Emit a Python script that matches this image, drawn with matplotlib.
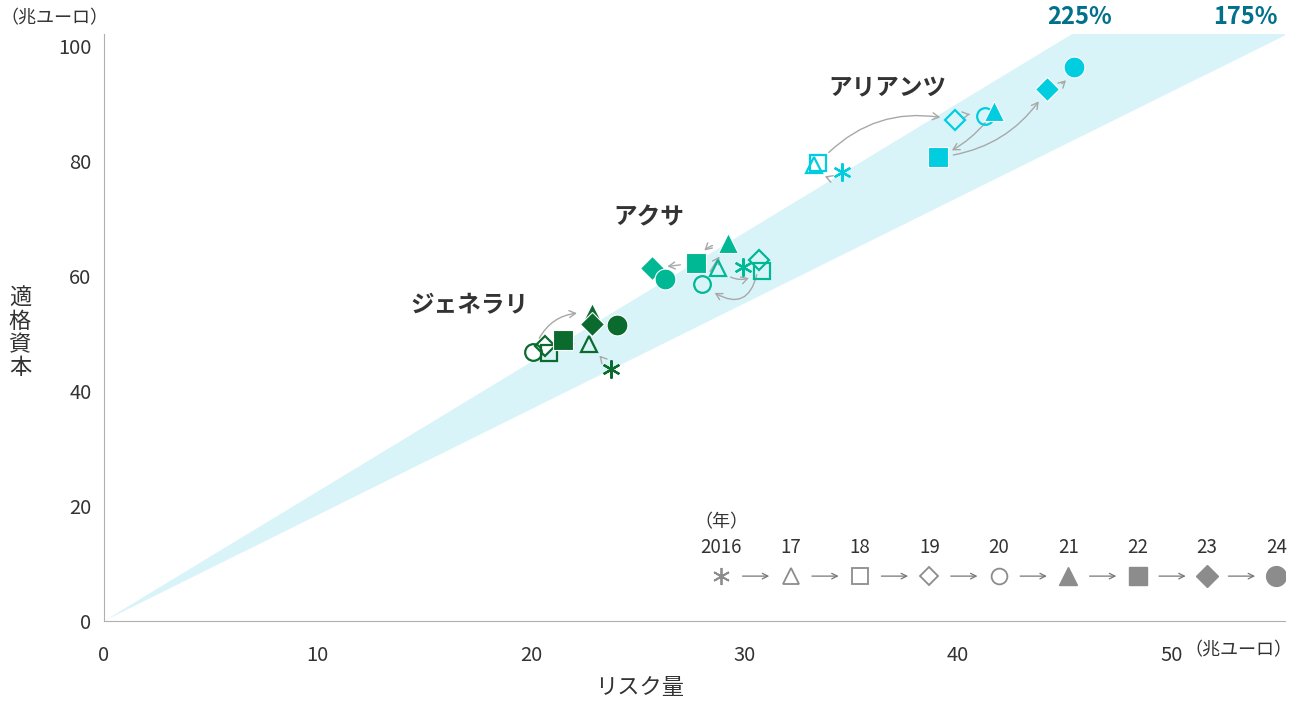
import numpy as np
import matplotlib
matplotlib.use("Agg")
import matplotlib.pyplot as plt

plt.rcParams["font.family"] = ["Noto Sans CJK JP", "DejaVu Sans"]

# data (trillion euro), years 2016 .. 2024
years = ["2016", "17", "18", "19", "20", "21", "22", "23", "24"]

generali_risk = [23.75, 22.72, 20.84, 20.65, 20.10, 22.86, 21.50, 22.86, 24.03]
generali_cap = [43.8, 48.1, 46.5, 47.7, 46.7, 53.5, 48.8, 51.6, 51.4]

axa_risk = [29.93, 28.76, 30.82, 30.68, 28.00, 29.20, 27.70, 25.67, 26.28]
axa_cap = [61.5, 61.3, 60.9, 62.8, 58.5, 65.6, 62.2, 61.3, 59.4]

allianz_risk = [34.57, 33.26, 33.44, 39.86, 41.26, 41.69, 39.06, 44.17, 45.43]
allianz_cap = [78.1, 79.2, 79.5, 87.0, 87.8, 88.7, 80.6, 92.5, 96.2]

# ratio band (capital / risk); lower edge as drawn in the original
band_hi = 2.25
band_lo = 1.84

# marker per year
markers = [(6, 2, 0), "^", "s", "D", "o", "^", "s", "D", "o"]
filled = [False, False, False, False, False, True, True, True, True]
msizes = [14, 13, 13, 11, 13, 14, 14, 12, 15]

# arrows: (from index, to index, curvature)
generali_arrows = [(0, 1, 0.0), (1, 2, 0.2), (4, 5, -0.4), (7, 8, 0.2)]
axa_arrows = [(1, 2, 0.45), (3, 4, -0.9), (4, 5, 0.0), (5, 6, 0.35), (6, 7, 0.0), (7, 8, 0.6)]
allianz_arrows = [(0, 1, -0.6), (2, 3, -0.3), (3, 4, -0.25), (5, 6, -0.15), (6, 7, 0.25), (7, 8, 0.3)]

companies = [
    ("ジェネラリ", generali_risk, generali_cap, "#0b6b2f", generali_arrows, (17.1, 55.0)),
    ("アクサ", axa_risk, axa_cap, "#00b894", axa_arrows, (25.5, 70.1)),
    ("アリアンツ", allianz_risk, allianz_cap, "#00cde0", allianz_arrows, (36.7, 92.5)),
]

xmax, ymax = 55.3, 102

fig = plt.figure(figsize=(13.01, 7.02), dpi=100)
ax = fig.add_axes([104 / 1301, 81 / 702, 1181 / 1301, 587 / 702])
ax.set_xlim(0, xmax)
ax.set_ylim(0, ymax)

xs = np.array([0, xmax])
ax.fill_between(xs, band_lo * xs, band_hi * xs, color="#d8f4f9", lw=0, zorder=0)

arrow_kw = dict(arrowstyle="->,head_length=0.45,head_width=0.25", color="#a8a8a8", lw=1.0)

for name, rx, cy, col, arrows, lab in companies:
    for i in range(len(years)):
        if filled[i]:
            ax.plot(rx[i], cy[i], marker=markers[i], ms=msizes[i], color=col,
                    mec="white", mew=0.8, zorder=3 + i * 0.01)
        else:
            ax.plot(rx[i], cy[i], marker=markers[i], ms=msizes[i] - 1, color=col,
                    mfc="none", mec=col, mew=1.6, zorder=3 + i * 0.01)
    for a, b, rad in arrows:
        ax.annotate("", xy=(rx[b], cy[b]), xytext=(rx[a], cy[a]),
                    arrowprops=dict(connectionstyle=f"arc3,rad={rad}",
                                    shrinkA=11, shrinkB=11, **arrow_kw), zorder=2)
    ax.text(lab[0], lab[1], name, ha="center", va="center", fontsize=17,
            fontweight="bold", color="#333333")

# legend row
leg_x = 28.9 + 3.25 * np.arange(len(years))
leg_col = "#8c8c8c"
for i, yr in enumerate(years):
    if filled[i]:
        ax.plot(leg_x[i], 7.8, marker=markers[i], ms=msizes[i] * 0.95, color=leg_col, mec=leg_col)
    else:
        ax.plot(leg_x[i], 7.8, marker=markers[i], ms=msizes[i] * 0.95 - 1, mfc="none",
                mec=leg_col, mew=1.3)
    ax.text(leg_x[i], 12.7, yr, ha="center", va="center", fontsize=13.5, color="#333333")
    if i < len(years) - 1:
        ax.annotate("", xy=(leg_x[i + 1] - 1.0, 7.8), xytext=(leg_x[i] + 1.0, 7.8),
                    arrowprops=dict(arrowstyle="->,head_length=0.4,head_width=0.2",
                                    color="#777777", lw=0.9, shrinkA=0, shrinkB=0))
ax.text(leg_x[0], 17.2, "（年）", ha="center", va="center", fontsize=13, color="#333333")

# axes styling
for s in ["top", "right"]:
    ax.spines[s].set_visible(False)
for s in ["left", "bottom"]:
    ax.spines[s].set_color("#b0b0b0")
ax.set_xticks(np.arange(0, 51, 10))
ax.set_yticks(np.arange(0, 101, 20))
ax.tick_params(axis="x", length=0, pad=17, labelsize=14.5, labelcolor="#333333")
ax.tick_params(axis="y", length=0, pad=9, labelsize=14.5, labelcolor="#333333")

fig.text(640 / 1301, 1 - 688 / 702, "リスク量", ha="center", va="center", fontsize=16, color="#333333")
fig.text(20 / 1301, 1 - 333 / 702, "適\n格\n資\n本", ha="center", va="center",
         fontsize=16, color="#333333", linespacing=1.0)
fig.text(0 / 1301, 1 - 18 / 702, "（兆ユーロ）", ha="left", va="center", fontsize=13, color="#333333")
fig.text(1292 / 1301, 1 - 650 / 702, "（兆ユーロ）", ha="right", va="center", fontsize=13, color="#333333")

fig.text(1080 / 1301, 1 - 17 / 702, "225%", ha="center", va="center", fontsize=17,
         fontweight="bold", color="#00708c")
fig.text(1245 / 1301, 1 - 17 / 702, "175%", ha="center", va="center", fontsize=17,
         fontweight="bold", color="#00708c")

fig.savefig("out.png", dpi=100)
